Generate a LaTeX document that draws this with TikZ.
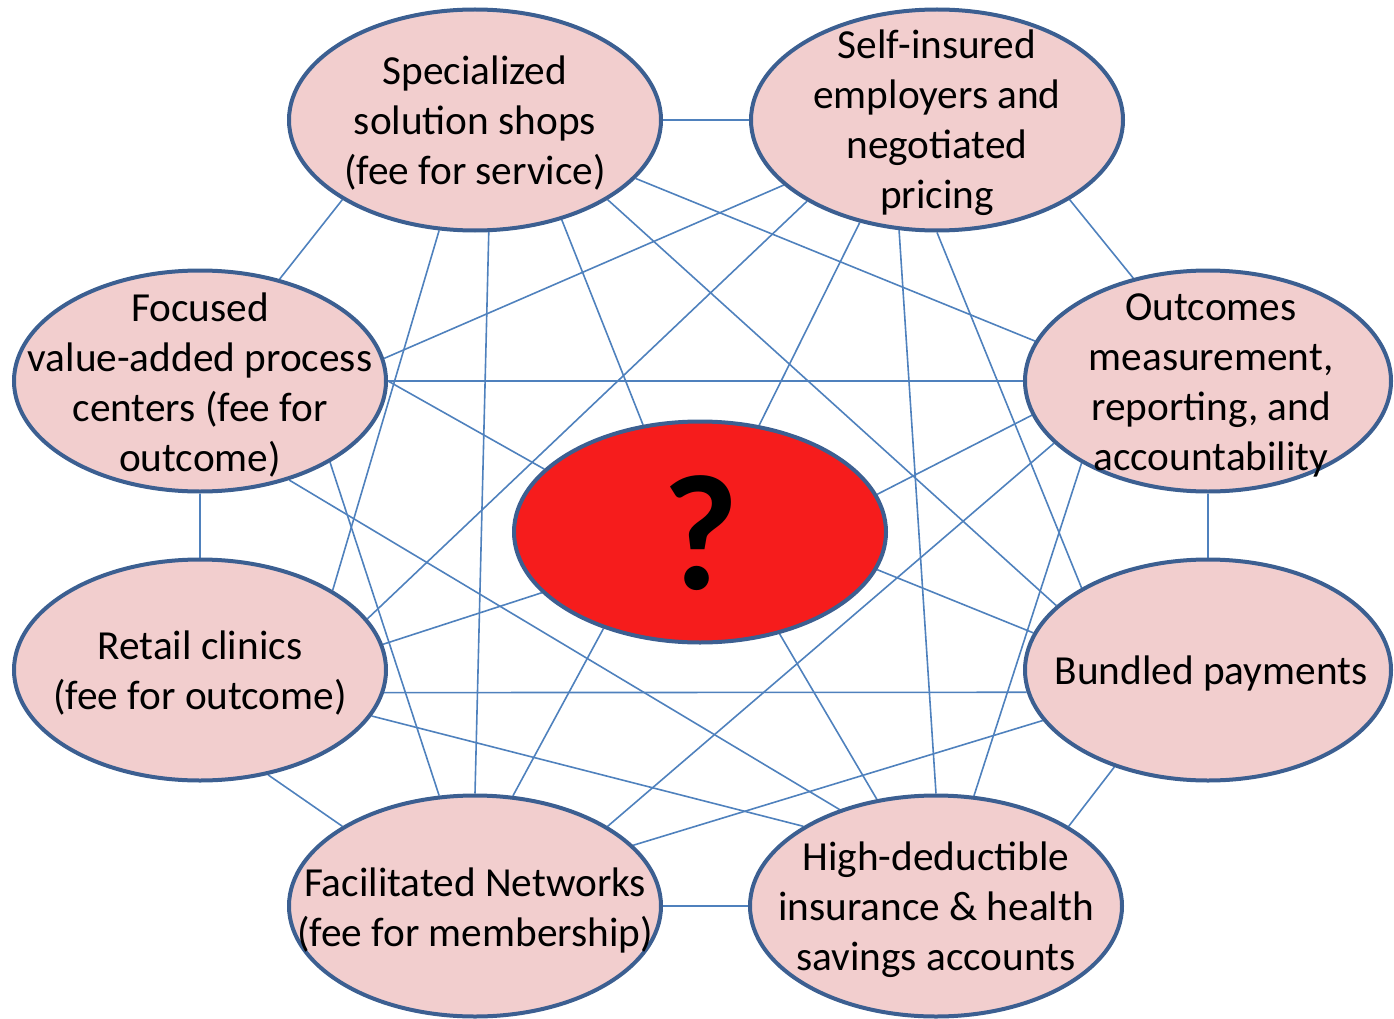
\documentclass[tikz,border=0pt]{standalone}
\usepackage{fontspec}
\setmainfont{Carlito}
\usetikzlibrary{shapes.geometric}
\pgfdeclarelayer{background}
\pgfsetlayers{background,main}
\definecolor{pinkfill}{RGB}{242,206,206}
\definecolor{redfill}{RGB}{246,28,28}
\definecolor{outl}{RGB}{60,95,145}
\definecolor{linkc}{RGB}{79,129,189}
\tikzset{
  oval/.style={ellipse, draw=outl, line width=4pt, fill=pinkfill,
    minimum width=372pt, minimum height=221pt, inner sep=0pt},
  ovalr/.style={oval, minimum width=366pt},
  hub/.style={oval, fill=redfill},
  txt/.style={align=center, font=\fontsize{41.3}{50}\selectfont, inner sep=0pt},
  qmark/.style={font=\fontsize{165}{165}\selectfont\bfseries, inner sep=0pt},
  link/.style={draw=linkc, line width=1.6pt},
}
\begin{document}
\begin{tikzpicture}[x=1pt, y=-1pt]
\useasboundingbox (0,0) rectangle (1394,1019);
% ellipses
\node[oval] (spec) at (475,120) {};
\node[oval] (self) at (937,120) {};
\node[oval] (foc) at (200,381) {};
\node[ovalr] (out) at (1208,381) {};
\node[oval] (ret) at (200,670) {};
\node[ovalr] (bun) at (1208,670) {};
\node[oval] (fac) at (475,906) {};
\node[oval] (hd) at (936,906) {};
\node[hub] (ctr) at (700,532) {};
% texts
\node[txt] (specT) at (475,123) {Specialized\\solution shops\\(fee for service)};
\node[txt] (selfT) at (937,123) {Self-insured\\employers and\\negotiated\\pricing};
\node[txt] (focT) at (200,385) {Focused\\value-added process\\centers (fee for\\outcome)};
\node[txt] (outT) at (1211,385) {Outcomes\\measurement,\\reporting, and\\accountability};
\node[txt] (retT) at (200,673) {Retail clinics\\(fee for outcome)};
\node[txt] (bunT) at (1211,673) {Bundled payments};
\node[txt] (facT) at (475,910) {Facilitated Networks\\(fee for membership)};
\node[txt] (hdT) at (936,910) {High-deductible\\insurance \& health\\savings accounts};
\node[qmark] (ctrT) at (701,533) {?};
% connectors
\begin{pgfonlayer}{background}
\draw[link] (spec.east) -- (self.west);
\draw[link] (spec.-149.4) -- (foc.52.9);
\draw[link] (spec.-108.6) -- (ret.31.7);
\draw[link] (spec.-83.9) -- (fac.north);
\draw[link] (spec.-49) -- (ctr.118.9);
\draw[link] (spec.-31) -- (bun.157.9);
\draw[link] (spec.-20.9) -- (out.167.4);
\draw[link] (self.-157.7) -- (foc.7.6);
\draw[link] (self.-148.7) -- (ret.17.7);
\draw[link] (self.-127) -- (ctr.61.5);
\draw[link] (self.-109.2) -- (hd.north);
\draw[link] (self.south) -- (bun.147.8);
\draw[link] (self.-31) -- (out.126.1);
\draw[link] (foc.east) -- (out.west);
\draw[link] (foc.east) -- (ctr.158.6);
\draw[link] (foc.-32.3) -- (fac.108.9);
\draw[link] (foc.-48.3) -- (hd.135);
\draw[link] (foc.south) -- (ret.north);
\draw[link] (out.191.9) -- (ctr.12.7);
\draw[link] (out.-158.2) -- (fac.31);
\draw[link] (out.-147.1) -- (hd.71.9);
\draw[link] (out.south) -- (bun.north);
\draw[link] (ret.8.2) -- (ctr.201.1);
\draw[link] (ret.-7.6) -- (bun.187.7);
\draw[link] (ret.-15.9) -- (hd.149.8);
\draw[link] (ret.-57.8) -- (fac.149.7);
\draw[link] (ctr.-12.7) -- (bun.168.4);
\draw[link] (ctr.-135) -- (fac.71.6);
\draw[link] (ctr.-52.4) -- (hd.119.1);
\draw[link] (bun.197.4) -- (fac.21.1);
\draw[link] (bun.-134.4) -- (hd.31.2);
\draw[link] (fac.east) -- (hd.west);
\end{pgfonlayer}
\end{tikzpicture}
\end{document}
